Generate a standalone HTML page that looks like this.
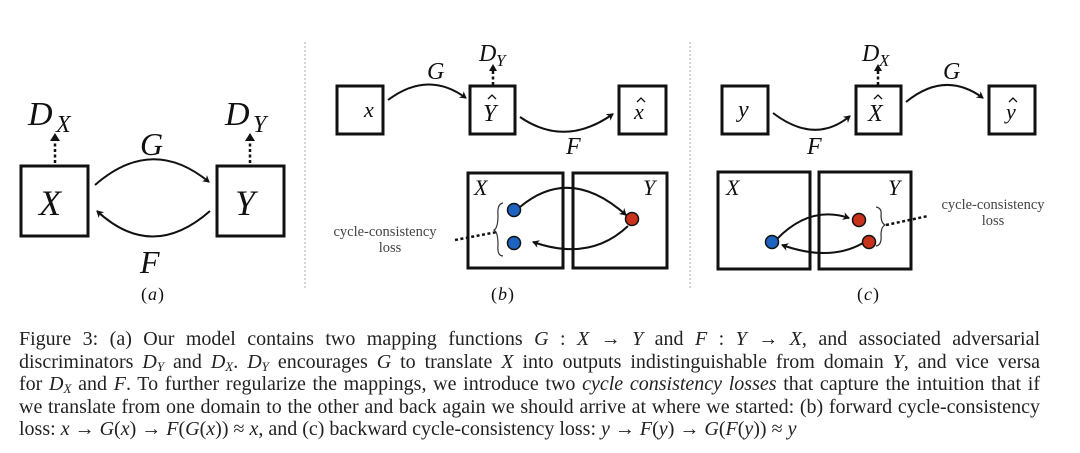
<!DOCTYPE html>
<html><head><meta charset="utf-8"><style>
body{margin:0;background:#fff;width:1080px;height:453px;overflow:hidden;position:relative;font-family:"Liberation Serif",serif;}
svg{position:absolute;left:0;top:0}
.cap{position:absolute;left:19px;width:1021px;font-size:20px;line-height:22.5px;color:#222;text-align:justify;text-align-last:justify;white-space:nowrap}
.cap div{text-align:justify;text-align-last:justify;height:22.5px;white-space:normal}
i{font-style:italic}
sub{font-size:13px;vertical-align:-3px;line-height:0}
</style></head><body>
<svg width="1080" height="453" viewBox="0 0 1080 453" font-family="Liberation Serif, serif">
<defs>
<marker id="ah" markerWidth="8" markerHeight="8" refX="6" refY="4" orient="auto" markerUnits="userSpaceOnUse"><path d="M0,0 L7,4 L0,8 L2,4 Z" fill="#111"/></marker>
</defs>
<g stroke="#aaa" stroke-width="1" stroke-dasharray="2,2"><line x1="305" y1="42" x2="305" y2="290"/><line x1="690" y1="42" x2="690" y2="290"/></g>
<g fill="none" stroke="#111" stroke-width="3">
<rect x="21" y="166" width="67" height="70"/><rect x="217" y="166" width="67" height="70"/>
<rect x="337" y="86" width="46" height="48"/><rect x="470" y="86" width="45" height="48"/><rect x="619" y="86" width="47" height="48"/>
<rect x="468" y="173" width="95" height="95"/><rect x="573" y="173" width="94" height="95"/>
<rect x="722" y="86" width="46" height="48"/><rect x="856" y="86" width="45" height="48"/><rect x="989" y="86" width="46" height="48"/>
<rect x="718" y="172" width="92" height="97"/><rect x="819" y="172" width="92" height="97"/>
</g>
<g fill="none" stroke="#111" stroke-width="2" marker-end="url(#ah)">
<path d="M95,185 Q152,135 209,182"/><path d="M210,211 Q152,262 97,211"/>
<path d="M388,100 Q428,70 466,98"/><path d="M520,117 Q565,148 613,114"/>
<path d="M773,113 Q815,145 850,116"/><path d="M906,102 Q945,70 983,98"/>
<path d="M520,207 Q570,165 626,215"/><path d="M628,226 Q590,262 533,242"/>
<path d="M777,239 Q810,205 849,218"/><path d="M863,243 Q830,262 782,245"/>
</g>
<g stroke="#111" stroke-width="2.5" stroke-dasharray="3,2.5" fill="none">
<line x1="55" y1="163" x2="55" y2="138"/><line x1="250" y1="163" x2="250" y2="138"/>
<line x1="493" y1="85" x2="493" y2="69"/><line x1="878" y1="85" x2="878" y2="69"/>
<line x1="455" y1="240" x2="497" y2="232"/><line x1="886" y1="225" x2="928" y2="216"/>
</g>
<g fill="#111"><path d="M55,133 L50,141 L60,141Z"/><path d="M250,133 L245,141 L255,141Z"/><path d="M493,64 L489,71 L497,71Z"/><path d="M878,64 L874,71 L882,71Z"/></g>
<g stroke="#333" stroke-width="1.2" fill="none">
<path d="M503,203 Q497,204 498,215 Q498,228 494,230 Q498,232 498,245 Q497,256 503,256"/>
<path d="M876,207 Q882,208 881,215 Q881,223 885,225 Q881,227 881,235 Q882,245 876,246"/>
</g>
<g stroke="#111" stroke-width="1.5"><circle cx="514" cy="210" r="6.5" fill="#1e63c0"/><circle cx="514" cy="243" r="6.5" fill="#1e63c0"/><circle cx="632" cy="219" r="6.5" fill="#c8321c"/>
<circle cx="772" cy="242" r="6.5" fill="#1e63c0"/><circle cx="859" cy="220" r="6.5" fill="#c8321c"/><circle cx="869" cy="242" r="6.5" fill="#c8321c"/></g>
<g font-style="italic" fill="#111">
<text x="28" y="125" font-size="34">D</text><text x="56" y="132" font-size="24">X</text>
<text x="225" y="125" font-size="34">D</text><text x="253" y="132" font-size="24">Y</text>
<text x="39" y="215" font-size="36">X</text><text x="235" y="215" font-size="36">Y</text>
<text x="140" y="155" font-size="32">G</text><text x="140" y="273" font-size="32">F</text>
<text x="364" y="117" font-size="22">x</text><text x="483" y="121" font-size="24">Y</text><text x="634" y="119" font-size="22">x</text>
<text x="427" y="79" font-size="24">G</text><text x="566" y="154" font-size="24">F</text>
<text x="479" y="61" font-size="24">D</text><text x="496" y="66" font-size="17">Y</text>
<text x="474" y="195" font-size="22">X</text><text x="643" y="195" font-size="22">Y</text>
<text x="738" y="117" font-size="24">y</text><text x="868" y="121" font-size="24">X</text><text x="1006" y="119" font-size="22">y</text>
<text x="943" y="79" font-size="24">G</text><text x="807" y="154" font-size="24">F</text>
<text x="862" y="61" font-size="24">D</text><text x="879" y="66" font-size="17">X</text>
<text x="726" y="195" font-size="22">X</text><text x="888" y="195" font-size="22">Y</text>
<text x="141" y="300" font-size="18" font-style="normal">(</text><text x="148" y="300" font-size="18">a</text><text x="158" y="300" font-size="18" font-style="normal">)</text>
<text x="491" y="300" font-size="18" font-style="normal">(</text><text x="498" y="300" font-size="18">b</text><text x="508" y="300" font-size="18" font-style="normal">)</text>
<text x="857" y="300" font-size="18" font-style="normal">(</text><text x="864" y="300" font-size="18">c</text><text x="873" y="300" font-size="18" font-style="normal">)</text>
</g>
<g fill="none" stroke="#111" stroke-width="1.3">
<path d="M488,99 L492,95 L496,99"/><path d="M637,102 L641,98 L645,102"/>
<path d="M874,99 L878,95 L882,99"/><path d="M1009,102 L1013,98 L1017,102"/>
</g>
<g fill="#444" font-size="14.5" text-anchor="middle">
<text x="385" y="236">cycle-consistency</text><text x="390" y="252">loss</text>
<text x="993" y="209">cycle-consistency</text><text x="993" y="225">loss</text>
</g>
</svg>
<div class="cap" style="top:328px">
<div>Figure 3: (a) Our model contains two mapping functions <i>G</i> : <i>X</i> → <i>Y</i> and <i>F</i> : <i>Y</i> → <i>X</i>, and associated adversarial</div>
<div>discriminators <i>D<sub>Y</sub></i> and <i>D<sub>X</sub></i>. <i>D<sub>Y</sub></i> encourages <i>G</i> to translate <i>X</i> into outputs indistinguishable from domain <i>Y</i>, and vice versa</div>
<div>for <i>D<sub>X</sub></i> and <i>F</i>. To further regularize the mappings, we introduce two <i>cycle consistency losses</i> that capture the intuition that if</div>
<div>we translate from one domain to the other and back again we should arrive at where we started: (b) forward cycle-consistency</div>
<div style="text-align-last:left">loss: <i>x</i> → <i>G</i>(<i>x</i>) → <i>F</i>(<i>G</i>(<i>x</i>)) ≈ <i>x</i>, and (c) backward cycle-consistency loss: <i>y</i> → <i>F</i>(<i>y</i>) → <i>G</i>(<i>F</i>(<i>y</i>)) ≈ <i>y</i></div>
</div>
</body></html>
